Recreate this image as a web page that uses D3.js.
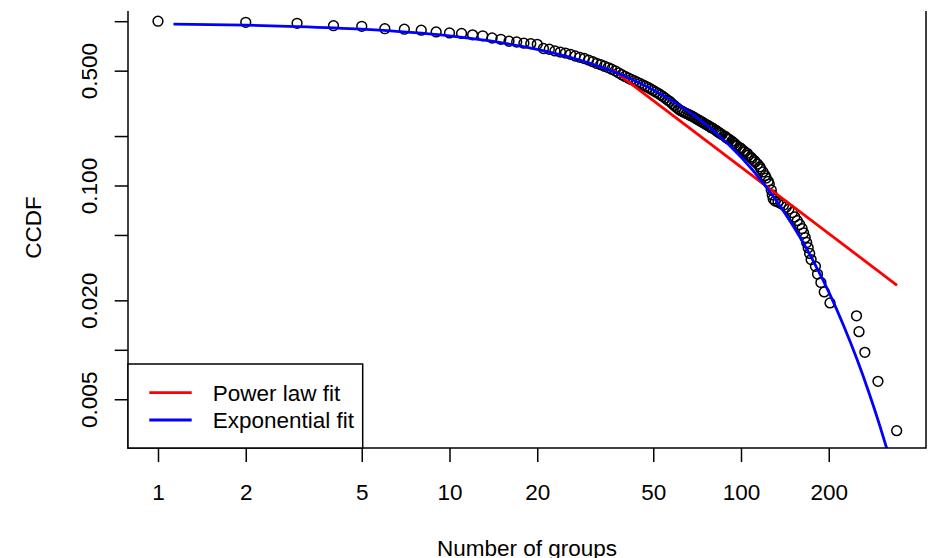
<!DOCTYPE html>
<html>
<head>
<meta charset="utf-8">
<script src="https://cdn.jsdelivr.net/npm/d3@7"></script>
<style>
  body { margin: 0; background: #fff; }
  text { font-family: "Liberation Sans", Arial, sans-serif; fill: #000; }
</style>
</head>
<body>
<div id="viz"></div>
<script>
// observed CCDF points (distinct group sizes and P(X >= x))
var groupSizes = [1, 2, 3, 4, 5, 6, 7, 8, 9, 10, 11, 12, 13, 14, 15, 16, 17, 18, 19, 20,
    21, 22, 23, 24, 25, 26, 27, 28, 29, 30, 31, 32, 33, 34, 35, 36, 37, 38, 39, 40,
    41, 42, 43, 44, 45, 46, 47, 48, 49, 50, 51, 52, 53, 54, 55, 56, 57, 58, 59, 60,
    61, 62, 63, 64, 65, 66, 67, 68, 69, 70, 71, 72, 73, 74, 75, 76, 77, 78, 79, 80,
    82, 83, 84, 85, 86, 88, 89, 90, 91, 93, 94, 95, 96, 97, 99, 100, 102, 103, 105, 106,
    108, 109, 111, 112, 114, 116, 117, 119, 121, 122, 124, 125, 127, 128, 129, 131, 134, 137, 140, 143,
    146, 150, 153, 156, 159, 162, 164, 166, 168, 170, 172, 174, 180, 183, 188, 193, 202, 249, 254, 266,
    295, 342];
var ccdfValues = [1.000, 0.985, 0.971, 0.939, 0.931, 0.900, 0.894, 0.882, 0.860, 0.848, 0.842, 0.826, 0.815, 0.790, 0.776, 0.755, 0.747, 0.735, 0.730, 0.723,
    0.682, 0.675, 0.659, 0.649, 0.640, 0.629, 0.614, 0.603, 0.593, 0.580, 0.567, 0.553, 0.544, 0.532, 0.522, 0.510, 0.499, 0.485, 0.472, 0.461,
    0.451, 0.442, 0.434, 0.425, 0.418, 0.410, 0.402, 0.395, 0.387, 0.379, 0.371, 0.364, 0.356, 0.348, 0.340, 0.331, 0.325, 0.315, 0.307, 0.299,
    0.292, 0.286, 0.282, 0.278, 0.274, 0.271, 0.267, 0.264, 0.260, 0.256, 0.252, 0.249, 0.245, 0.242, 0.238, 0.235, 0.232, 0.229, 0.225, 0.223,
    0.217, 0.213, 0.210, 0.207, 0.204, 0.200, 0.196, 0.193, 0.191, 0.186, 0.183, 0.180, 0.176, 0.174, 0.170, 0.168, 0.163, 0.160, 0.157, 0.153,
    0.149, 0.146, 0.142, 0.139, 0.135, 0.130, 0.126, 0.121, 0.115, 0.111, 0.106, 0.102, 0.0939, 0.0876, 0.0828, 0.0804, 0.0793, 0.0777, 0.0761, 0.0740,
    0.0719, 0.0685, 0.0643, 0.0611, 0.0579, 0.0547, 0.0514, 0.0482, 0.0450, 0.0418, 0.0386, 0.0354, 0.0322, 0.0289, 0.0257, 0.0225, 0.0193, 0.0161, 0.0129, 0.00965,
    0.00643, 0.00322];

// fitted lines
var powerFitX = [36.3, 343];
var powerFitY = [0.505, 0.0247];
var expFitX = [1.13, 2, 3, 5, 10, 15, 20, 30, 40, 50, 60, 70, 80, 100, 120, 140, 160, 180, 200, 225, 250, 275, 300, 316, 330];
var expFitY = [0.961, 0.946, 0.928, 0.894, 0.813, 0.740, 0.673, 0.557, 0.461, 0.382, 0.316, 0.262, 0.217, 0.149, 0.102, 0.0698, 0.0479, 0.0328, 0.0225, 0.0140, 0.00875, 0.00546, 0.00341, 0.00252, 0.00193];

var xTicks = [1, 2, 5, 10, 20, 50, 100, 200];
var yTicks = [1, 0.5, 0.2, 0.1, 0.05, 0.02, 0.01, 0.005];
var yLabelled = [0.5, 0.1, 0.02, 0.005];

var legendLabels = ["Power law fit", "Exponential fit"];
var legendColors = ["#ff0000", "#0000ff"];

var width = 930, height = 558;
var plotLeft = 128, plotRight = 926, plotTop = 11, plotBottom = 448;
var fontSize = 22.5;

var svg = d3.select("#viz").append("svg").attr("width", width).attr("height", height);

var x = d3.scaleLog().domain([1, 100]).range([158, 741]);
var y = d3.scaleLog().domain([1, 0.01]).range([21.2, 349.8]);

svg.append("clipPath").attr("id", "plotclip")
    .append("rect")
    .attr("x", plotLeft).attr("y", 0)
    .attr("width", plotRight - plotLeft).attr("height", plotBottom);

// points
var points = groupSizes.map(function (g, i) { return {x: g, y: ccdfValues[i]}; });
svg.append("g").selectAll("circle")
    .data(points)
    .enter()
    .append("circle")
    .attr("cx", function (d) { return x(d.x); })
    .attr("cy", function (d) { return y(d.y); })
    .attr("r", 4.9)
    .style("fill", "none")
    .attr("stroke", "#000")
    .attr("stroke-width", 1.5);

var line = d3.line()
    .x(function (d) { return x(d[0]); })
    .y(function (d) { return y(d[1]); });

svg.append("path")
    .datum(powerFitX.map(function (v, i) { return [v, powerFitY[i]]; }))
    .attr("d", line)
    .attr("clip-path", "url(#plotclip)")
    .style("fill", "none")
    .attr("stroke", legendColors[0])
    .attr("stroke-width", 2.8);

svg.append("path")
    .datum(expFitX.map(function (v, i) { return [v, expFitY[i]]; }))
    .attr("d", line.curve(d3.curveMonotoneX))
    .attr("clip-path", "url(#plotclip)")
    .style("fill", "none")
    .attr("stroke", legendColors[1])
    .attr("stroke-width", 2.8);

// frame (top edge is not visible in the figure)
svg.append("path")
    .attr("d", "M" + plotLeft + "," + plotTop + "V" + plotBottom + "H" + plotRight + "V" + plotTop)
    .style("fill", "none")
    .attr("stroke", "#000")
    .attr("stroke-width", 1.5);

// x axis
var xAxis = svg.append("g")
    .attr("transform", "translate(0," + plotBottom + ")")
    .call(d3.axisBottom(x).tickValues(xTicks).tickSize(14).tickFormat(d3.format("d")));
xAxis.select(".domain").remove();
xAxis.selectAll("line").attr("stroke", "#000").attr("stroke-width", 1.5);
xAxis.selectAll("text")
    .attr("y", 52).attr("dy", 0)
    .style("font-size", fontSize + "px")
    .style("font-family", "'Liberation Sans', Arial, sans-serif")
    .attr("fill", "#000");

// y axis
var yAxis = svg.append("g")
    .attr("transform", "translate(" + plotLeft + ",0)")
    .call(d3.axisLeft(y).tickValues(yTicks).tickSize(13.3).tickFormat(function (d) {
        return yLabelled.indexOf(d) >= 0 ? d3.format(".3f")(d) : "";
    }));
yAxis.select(".domain").remove();
yAxis.selectAll("line").attr("stroke", "#000").attr("stroke-width", 1.5);
yAxis.selectAll("text")
    .attr("x", 0).attr("dy", 0)
    .attr("transform", "translate(-31.3,0) rotate(-90)")
    .attr("text-anchor", "middle")
    .style("font-size", fontSize + "px")
    .style("font-family", "'Liberation Sans', Arial, sans-serif")
    .attr("fill", "#000");

// axis titles
svg.append("text")
    .attr("x", (plotLeft + plotRight) / 2)
    .attr("y", 555.5)
    .attr("text-anchor", "middle")
    .style("font-size", fontSize + "px")
    .text("Number of groups");

svg.append("text")
    .attr("transform", "translate(40.7,227.5) rotate(-90)")
    .attr("text-anchor", "middle")
    .style("font-size", fontSize + "px")
    .text("CCDF");

// legend
var legend = svg.append("g");
legend.append("rect")
    .attr("x", plotLeft).attr("y", 364)
    .attr("width", 362.7 - plotLeft).attr("height", plotBottom - 364)
    .style("fill", "#fff")
    .attr("stroke", "#000")
    .attr("stroke-width", 1.5);

legend.selectAll(".lg")
    .data(legendLabels)
    .enter()
    .append("g")
    .attr("transform", function (d, i) { return "translate(0," + (392.7 + i * 27.3) + ")"; })
    .each(function (d, i) {
        var g = d3.select(this);
        g.append("line")
            .attr("x1", 149.3).attr("x2", 191.7)
            .attr("y1", 0).attr("y2", 0)
            .attr("stroke", legendColors[i])
            .attr("stroke-width", 2.8);
        g.append("text")
            .attr("x", 212.7).attr("y", 8)
            .style("font-size", fontSize + "px")
            .text(d);
    });
</script>
</body>
</html>
